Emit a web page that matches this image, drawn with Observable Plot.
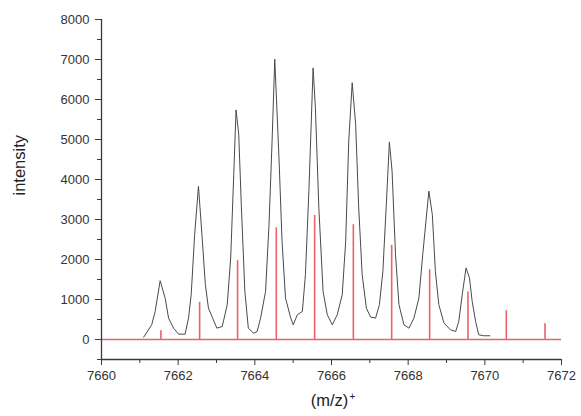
<!DOCTYPE html>
<html><head><meta charset="utf-8">
<script src="https://cdn.jsdelivr.net/npm/d3@7"></script>
<script src="https://cdn.jsdelivr.net/npm/@observablehq/plot@0.6"></script>
<style>body{margin:0;background:#fff}</style>
</head><body><div id="chart"></div>
<script>
// measured profile (black trace)
const profileX = [7661.10,7661.31,7661.40,7661.53,7661.66,7661.75,7661.88,7662.01,7662.18,7662.27,7662.34,7662.43,7662.53,7662.62,7662.71,7662.79,7662.90,7663.01,7663.15,7663.28,7663.37,7663.45,7663.51,7663.58,7663.65,7663.74,7663.83,7663.97,7664.06,7664.15,7664.28,7664.37,7664.45,7664.52,7664.63,7664.71,7664.80,7664.93,7665.00,7665.11,7665.24,7665.32,7665.41,7665.47,7665.52,7665.58,7665.67,7665.78,7665.89,7666.02,7666.15,7666.28,7666.37,7666.45,7666.54,7666.63,7666.71,7666.80,7666.91,7667.02,7667.15,7667.25,7667.34,7667.43,7667.51,7667.58,7667.67,7667.76,7667.89,7668.02,7668.15,7668.28,7668.38,7668.54,7668.63,7668.71,7668.80,7668.93,7669.10,7669.24,7669.32,7669.41,7669.51,7669.60,7669.67,7669.76,7669.84,7669.97,7670.13];
const profileY = [58,368,700,1470,1035,534,283,133,133,534,1120,2624,3830,2624,1370,785,534,283,326,870,2037,4127,5740,5130,3290,1203,283,158,200,534,1203,2874,4962,7010,4543,2456,1035,560,368,619,702,1621,3709,5380,6790,5796,3290,1203,619,368,619,1120,2456,4962,6420,5380,3290,1621,785,560,534,870,1704,3375,4940,4210,2122,870,368,283,534,1035,2122,3710,3125,1704,870,420,243,200,451,1120,1790,1536,952,451,118,93,93];
// calculated isotope sticks (red)
const stickX = [7661.55,7662.56,7663.55,7664.56,7665.56,7666.57,7667.57,7668.56,7669.56,7670.56,7671.57];
const stickY = [220,930,1970,2790,3100,2870,2355,1745,1185,720,395];
// axes
const xTicks = [7660,7662,7664,7666,7668,7670,7672];
const xMinor = [7661,7663,7665,7667,7669,7671];
const yTicks = [0,1000,2000,3000,4000,5000,6000,7000,8000];
const yMinor = [-500,500,1500,2500,3500,4500,5500,6500,7500];
const xDomain = [7660,7672];
const yDomain = [-500,8000];
const xLabel = "(m/z)";
const xLabelSup = "+";
const yLabel = "intensity";

const profile = profileX.map((x,i)=>({x, y: profileY[i]}));
const sticks = stickX.map((x,i)=>({x, y: stickY[i]}));
const red = "#e8636c";
const axisColor = "#3a3a3a";

const chart = Plot.plot({
  width: 581, height: 416,
  marginLeft: 101, marginRight: 20, marginTop: 19, marginBottom: 57,
  x: {domain: xDomain},
  y: {domain: yDomain},
  style: {fontFamily: "Liberation Sans, Arial, sans-serif", background: "#fff", color: "#333"},
  marks: [
    Plot.ruleY([0], {x1: xDomain[0], x2: xDomain[1], stroke: red, strokeWidth: 1.3}),
    Plot.ruleX(sticks, {x: "x", y1: 0, y2: "y", stroke: red, strokeWidth: 1.6}),
    Plot.line(profile, {x: "x", y: "y", stroke: "#4a4a4a", strokeWidth: 1, strokeLinejoin: "round"}),
    Plot.ruleX([xDomain[0]], {y1: yDomain[0], y2: yDomain[1], stroke: axisColor, strokeWidth: 1.3}),
    Plot.ruleY([yDomain[0]], {x1: xDomain[0], x2: xDomain[1], stroke: axisColor, strokeWidth: 1.3}),
    Plot.axisY({ticks: yTicks, tickSize: 6, tickPadding: 6, tickFormat: d => String(d), fontSize: 13, stroke: axisColor, fill: "#333", label: null}),
    Plot.axisY({ticks: yMinor, tickSize: 4, text: null, stroke: axisColor, label: null}),
    Plot.axisX({ticks: xTicks, tickSize: 6, tickPadding: 5, tickFormat: d => String(d), fontSize: 13, stroke: axisColor, fill: "#333", label: null}),
    Plot.axisX({ticks: xMinor, tickSize: 4, text: null, stroke: axisColor, label: null}),
    Plot.text([yLabel], {frameAnchor: "left", rotate: -90, dx: -82, dy: 6, fontSize: 16.5, fill: "#222"}),
    Plot.text([xLabel], {frameAnchor: "bottom", dx: -2, dy: 46, fontSize: 16.5, fill: "#222"}),
    Plot.text([xLabelSup], {frameAnchor: "bottom", dx: 21, dy: 40, fontSize: 10, fill: "#222"})
  ]
});
document.getElementById("chart").appendChild(chart);
</script>
</body></html>
